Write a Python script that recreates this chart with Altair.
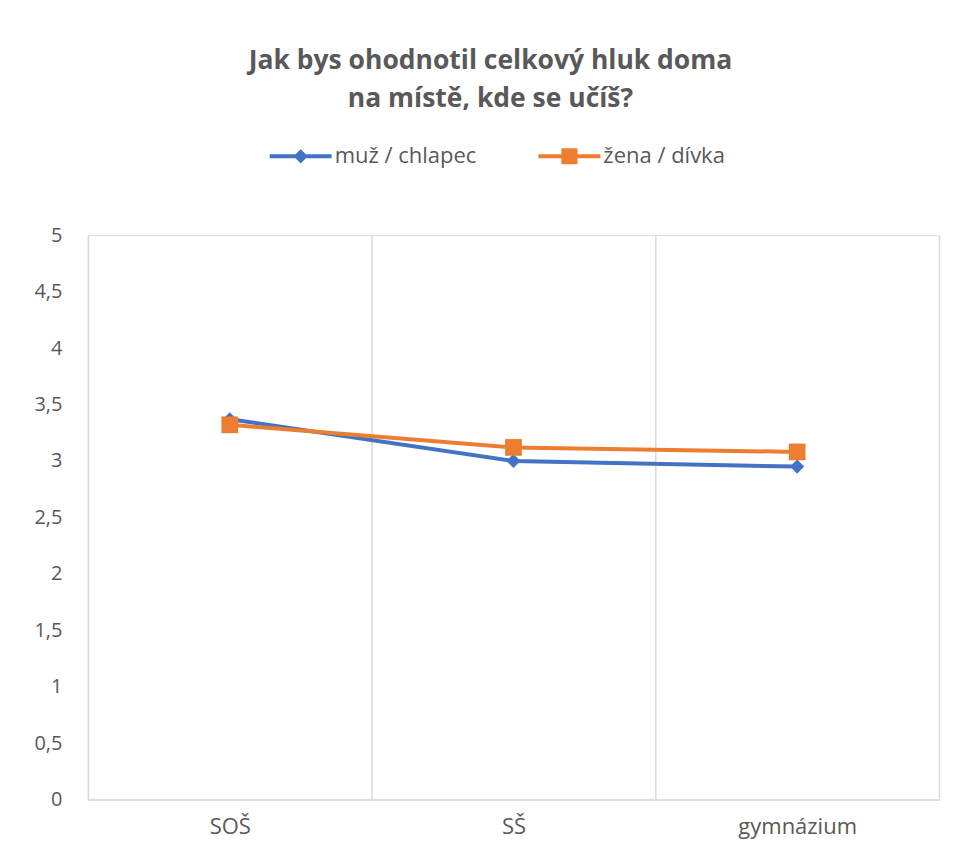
import altair as alt
import pandas as pd

categories = ["SOŠ", "SŠ", "gymnázium"]
series_names = ["muž / chlapec", "žena / dívka"]
muz = [3.37, 3.00, 2.95]
zena = [3.32, 3.12, 3.08]
colors = ["#4472C4", "#ED7D31"]
y_ticks = [0, 0.5, 1, 1.5, 2, 2.5, 3, 3.5, 4, 4.5, 5]

rows = []
for s, vals in zip(series_names, [muz, zena]):
    for c, v in zip(categories, vals):
        rows.append({"typ": c, "pohlavi": s, "hodnota": v})
df = pd.DataFrame(rows)

TXT = "#595959"
GRID = "#d9d9d9"
FONT = "Open Sans"

x_enc = alt.X(
    "typ:N",
    sort=categories,
    bandPosition=0.5,
    scale=alt.Scale(type="band", domain=categories, paddingInner=0, paddingOuter=0),
    axis=alt.Axis(
        title=None, tickBand="extent", grid=True, gridColor=GRID, gridWidth=1.5,
        domainColor=GRID, domainWidth=1.5, ticks=False, labelAngle=0,
        labelPadding=17, labelFontSize=22, labelColor=TXT, labelFont=FONT,
    ),
)
y_enc = alt.Y(
    "hodnota:Q",
    scale=alt.Scale(domain=[0, 5], nice=False),
    axis=alt.Axis(
        title=None, values=y_ticks, grid=False, domain=False, ticks=False,
        format="~g",
        labelPadding=26, labelFontSize=20, labelColor=TXT, labelFont=FONT,
        labelExpr="replace(datum.label, '.', ',')",
    ),
)
color_scale = alt.Scale(domain=series_names, range=colors)

base = alt.Chart(df)

lines = base.mark_line(strokeWidth=4).encode(
    x=x_enc, y=y_enc,
    color=alt.Color("pohlavi:N", scale=color_scale, legend=None),
)
points = base.mark_point(filled=True, opacity=1).encode(
    x=x_enc, y=y_enc,
    color=alt.Color("pohlavi:N", scale=color_scale, legend=None),
    shape=alt.Shape("pohlavi:N", scale=alt.Scale(domain=series_names, range=["diamond", "square"]), legend=None),
    size=alt.Size("pohlavi:N", scale=alt.Scale(domain=series_names, range=[200, 280]), legend=None),
)

diamond_path = "M-1,-0.065H1V0.065H-1Z M0,-0.23L0.23,0L0,0.23L-0.23,0Z"
square_path = "M-1,-0.065H1V0.065H-1Z M-0.26,-0.26H0.26V0.26H-0.26Z"
leg = dict(
    title=None, orient="none", legendX=182, legendY=-110, direction="horizontal",
    symbolSize=3844, symbolStrokeWidth=0, symbolOpacity=1, labelFontSize=22, labelColor=TXT,
    labelFont=FONT, labelOffset=3, columnPadding=62,
)
legend_layer = base.mark_point(filled=True, opacity=1).encode(
    x=x_enc, y=y_enc,
    color=alt.Color("pohlavi:N", scale=color_scale, legend=alt.Legend(**leg)),
    shape=alt.Shape("pohlavi:N", scale=alt.Scale(domain=series_names, range=[diamond_path, square_path]),
                    legend=alt.Legend(**leg)),
).transform_filter("false")

chart = alt.layer(lines, points, legend_layer).resolve_scale(
    color="independent", shape="independent"
).properties(
    width=852, height=565,
    padding={"left": 80, "top": 227, "right": 15, "bottom": 40},
    autosize=alt.AutoSizeParams(type="none"),
    title=alt.Title(
        ["Jak bys ohodnotil celkový hluk doma", "na místě, kde se učíš?"],
        fontSize=26.5, font=FONT, fontWeight="bold", color=TXT, lineHeight=38,
        anchor="middle", dx=-23, offset=13,
    ),
).configure_view(stroke=None).configure(background="white")

chart.save("out.html", embed_options={"renderer": "svg", "actions": False})
